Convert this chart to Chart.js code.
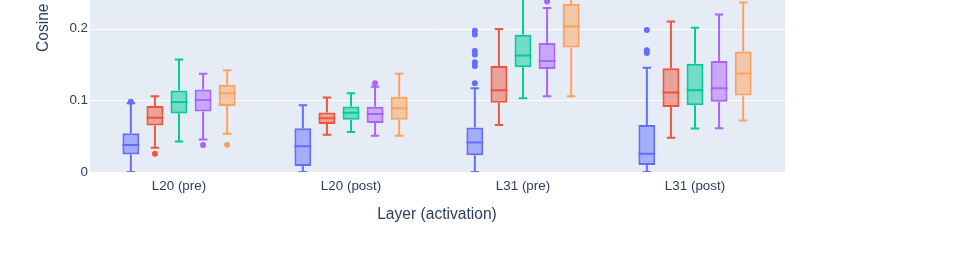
<!DOCTYPE html>
<html>
<head>
<meta charset="utf-8">
<script src="https://cdn.jsdelivr.net/npm/chart.js@4.4.1/dist/chart.umd.min.js"></script>
<style>
  html, body { margin: 0; padding: 0; background: #fff; }
  #wrap { position: relative; width: 957px; height: 264px; overflow: hidden; }
  #ytitle {
    position: absolute; left: 35px; top: 52px;
    transform: rotate(-90deg); transform-origin: 0 0;
    font: 15.6px "Liberation Sans", Arial, sans-serif; line-height: 16px;
    color: #2a3f5f; white-space: nowrap;
  }
</style>
</head>
<body>
<div id="wrap">
  <canvas id="boxChart" width="957" height="264"></canvas>
  <div id="ytitle">Cosine similarity</div>
</div>
<script>
// Data
const categories = ['L20 (pre)', 'L20 (post)', 'L31 (pre)', 'L31 (post)'];
const seriesNames = ['Series 1', 'Series 2', 'Series 3', 'Series 4', 'Series 5'];
const yTicks = [0, 0.1, 0.2];

// [lower whisker, q1, median, q3, upper whisker] per category
const blueStats = [[0, 0.0244, 0.0376, 0.054, 0.096], [0, 0.0085, 0.036, 0.061, 0.093], [0, 0.0235, 0.041, 0.062, 0.117], [0, 0.0099, 0.0254, 0.0657, 0.1455]];
const redStats = [[0.0338, 0.0648, 0.0756, 0.092, 0.1056], [0.052, 0.067, 0.075, 0.083, 0.1038], [0.0657, 0.0967, 0.114, 0.148, 0.1995], [0.0479, 0.0906, 0.111, 0.1446, 0.210]];
const greenStats = [[0.0427, 0.0817, 0.0977, 0.1136, 0.157], [0.0559, 0.0728, 0.0826, 0.0915, 0.110], [0.1028, 0.146, 0.1624, 0.1915, 0.27], [0.0606, 0.093, 0.114, 0.151, 0.2014]];
const purpleStats = [[0.0455, 0.0845, 0.1005, 0.115, 0.137], [0.0507, 0.0685, 0.081, 0.091, 0.119], [0.1056, 0.1437, 0.155, 0.180, 0.229], [0.061, 0.098, 0.117, 0.155, 0.2197]];
const orangeStats = [[0.0535, 0.092, 0.110, 0.1216, 0.142], [0.0507, 0.073, 0.089, 0.105, 0.137], [0.1056, 0.1737, 0.203, 0.2347, 0.28], [0.0718, 0.1066, 0.1376, 0.168, 0.2366]];

// outlier points per category
const blueOutliers = [[0.098], [], [0.124, 0.148, 0.153, 0.164, 0.169, 0.192, 0.197], [0.166, 0.170, 0.198]];
const redOutliers = [[0.0254], [], [], []];
const greenOutliers = [[], [], [], []];
const purpleOutliers = [[0.0376], [0.124], [0.238], []];
const orangeOutliers = [[0.038], [], [], []];

const seriesColors = ['#636efa', '#EF553B', '#00cc96', '#ab63fa', '#FFA15A'];
const allStats = [blueStats, redStats, greenStats, purpleStats, orangeStats];
const allOutliers = [blueOutliers, redOutliers, greenOutliers, purpleOutliers, orangeOutliers];

const fontFamily = '"Liberation Sans", Arial, sans-serif';
const textColor = '#2a3f5f';

function withAlpha(hex, a) {
  const n = parseInt(hex.slice(1), 16);
  return `rgba(${(n >> 16) & 255}, ${(n >> 8) & 255}, ${n & 255}, ${a})`;
}

// Background, gridlines, whiskers, medians and outliers
const boxPlugin = {
  id: 'boxPlot',
  beforeDraw(chart) {
    const { ctx, chartArea: a, scales: { y } } = chart;
    const left = a.left - 3, right = a.right + 4;
    ctx.save();
    ctx.fillStyle = '#E5ECF6';
    ctx.fillRect(left, a.top, right - left, a.bottom - a.top);
    ctx.strokeStyle = '#ffffff';
    ctx.lineWidth = 1;
    yTicks.forEach((v) => {
      const py = Math.round(y.getPixelForValue(v)) + 0.5;
      ctx.beginPath();
      ctx.moveTo(left, py);
      ctx.lineTo(right, py);
      ctx.stroke();
    });
    ctx.restore();
  },
  afterDatasetsDraw(chart) {
    const { ctx, chartArea: a, scales: { y } } = chart;
    ctx.save();
    ctx.beginPath();
    ctx.rect(a.left - 3, a.top, a.width + 7, a.height);
    ctx.clip();
    chart.data.datasets.forEach((ds, i) => {
      const meta = chart.getDatasetMeta(i);
      meta.data.forEach((bar, j) => {
        const s = ds.stats[j];
        const x = bar.x, w = bar.width;
        const [lo, q1, med, q3, hi] = s.map((v) => y.getPixelForValue(v));
        ctx.strokeStyle = ds.borderColor;
        ctx.lineWidth = 2;
        ctx.beginPath();
        // whiskers
        ctx.moveTo(x, q3); ctx.lineTo(x, hi);
        ctx.moveTo(x, q1); ctx.lineTo(x, lo);
        ctx.moveTo(x - w / 4, hi); ctx.lineTo(x + w / 4, hi);
        ctx.moveTo(x - w / 4, lo); ctx.lineTo(x + w / 4, lo);
        // median
        ctx.moveTo(x - w / 2, med); ctx.lineTo(x + w / 2, med);
        ctx.stroke();
        ctx.fillStyle = ds.borderColor;
        ds.outliers[j].forEach((v) => {
          ctx.beginPath();
          ctx.arc(x, y.getPixelForValue(v), 3, 0, Math.PI * 2);
          ctx.fill();
        });
      });
    });
    ctx.restore();
  }
};

new Chart(document.getElementById('boxChart'), {
  type: 'bar',
  data: {
    labels: categories,
    datasets: seriesNames.map((name, i) => ({
      label: name,
      data: allStats[i].map((s) => [s[1], s[3]]),
      stats: allStats[i],
      outliers: allOutliers[i],
      backgroundColor: withAlpha(seriesColors[i], 0.5),
      borderColor: seriesColors[i],
      borderWidth: 2,
      borderSkipped: false,
      categoryPercentage: 0.7,
      barPercentage: 0.7
    }))
  },
  options: {
    responsive: false,
    animation: false,
    layout: { padding: { left: 0, right: 176, top: 0, bottom: 0 } },
    plugins: { legend: { display: false }, tooltip: { enabled: false } },
    scales: {
      x: {
        grid: { display: false, drawTicks: false },
        border: { display: false },
        ticks: { color: textColor, font: { family: fontFamily, size: 13.4 }, padding: 6, maxRotation: 0 },
        title: {
          display: true, text: 'Layer (activation)', color: textColor,
          font: { family: fontFamily, size: 15.6 }, padding: { top: 4, bottom: 40 }
        },
        afterFit: (scale) => {
          scale.height = 92;
          scale.paddingLeft = 0; scale.paddingRight = 0;
        }
      },
      y: {
        min: 0,
        max: 0.24,
        grid: { display: false, drawTicks: false },
        border: { display: false },
        afterBuildTicks: (scale) => { scale.ticks = yTicks.map((v) => ({ value: v })); },
        ticks: {
          color: textColor, font: { family: fontFamily, size: 13.4 }, padding: 5,
          callback: (v) => String(Math.round(v * 10) / 10)
        },
        afterFit: (scale) => {
          scale.width = 93;
          scale.paddingTop = 0; scale.paddingBottom = 0;
        }
      }
    }
  },
  plugins: [boxPlugin]
});
</script>
</body>
</html>
